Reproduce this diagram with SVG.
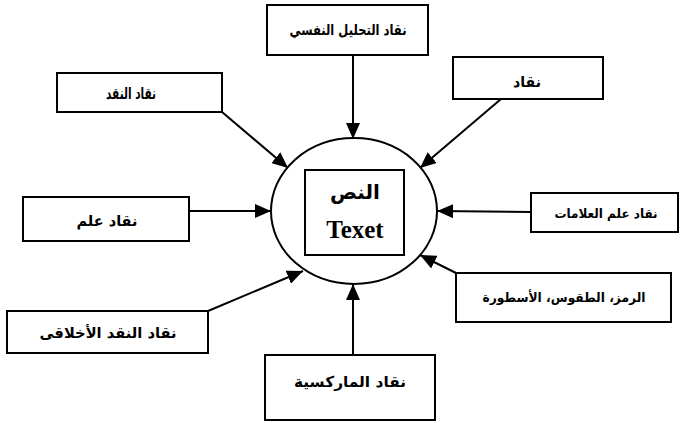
<svg xmlns="http://www.w3.org/2000/svg" width="680" height="423" viewBox="0 0 680 423">
<style>
.box{fill:#fff;stroke:#000;stroke-width:2}
.ar{font-family:"DejaVu Sans",sans-serif;font-weight:bold;font-size:15px;fill:#000;text-anchor:middle;dominant-baseline:central}
.ln{stroke:#000;stroke-width:2;fill:none;marker-end:url(#ah)}
</style>
<defs>
<marker id="ah" viewBox="0 0 16 14" refX="16" refY="7" markerWidth="16" markerHeight="14" markerUnits="userSpaceOnUse" orient="auto">
<path d="M0,0 L16,7 L0,14 Z" fill="#000"/>
</marker>
</defs>
<rect width="680" height="423" fill="#fff"/>
<g id="connectors">
<line class="ln" x1="353" y1="55" x2="353" y2="139"/>
<line class="ln" x1="222" y1="112" x2="288" y2="168"/>
<line class="ln" x1="501" y1="99" x2="420" y2="168"/>
<line class="ln" x1="189" y1="211" x2="271" y2="211"/>
<line class="ln" x1="531" y1="212" x2="437" y2="211"/>
<line class="ln" x1="208" y1="311" x2="303" y2="271"/>
<line class="ln" x1="456" y1="273" x2="420" y2="255"/>
<line class="ln" x1="353" y1="355" x2="353" y2="284"/>
</g>
<g id="center">
<ellipse cx="354" cy="211" rx="83" ry="73" fill="#fff" stroke="#000" stroke-width="2"/>
<rect class="box" x="305" y="170" width="99" height="85"/>
<text x="355" y="192" style="font-family:'DejaVu Sans',sans-serif;font-weight:bold;font-size:20px;text-anchor:middle;dominant-baseline:central">النص</text>
<text x="355" y="229" style="font-family:'Liberation Serif',serif;font-weight:bold;font-size:25px;text-anchor:middle;dominant-baseline:central">Texet</text>
</g>
<g id="n-top"><rect class="box" x="267" y="5" width="161" height="50"/><text class="ar" x="348" y="30" textLength="117" lengthAdjust="spacingAndGlyphs">نقاد التحليل النفسي</text></g>
<g id="n-topleft"><rect class="box" x="57" y="73" width="165" height="39"/><text class="ar" x="131" y="93" style="font-size:16px" textLength="50" lengthAdjust="spacingAndGlyphs">نقاد النقد</text></g>
<g id="n-topright"><rect class="box" x="453" y="57" width="150" height="42"/><text class="ar" x="527" y="82" textLength="28" lengthAdjust="spacingAndGlyphs">نقاد</text></g>
<g id="n-left"><rect class="box" x="23" y="197" width="166" height="44"/><text class="ar" x="107" y="221" textLength="61" lengthAdjust="spacingAndGlyphs">نقاد علم</text></g>
<g id="n-right"><rect class="box" x="531" y="193" width="147" height="39"/><text class="ar" x="606" y="213" style="font-size:13px" textLength="103" lengthAdjust="spacingAndGlyphs">نقاد علم العلامات</text></g>
<g id="n-bottomleft"><rect class="box" x="7" y="311" width="201" height="42"/><text class="ar" x="108" y="333" textLength="137" lengthAdjust="spacingAndGlyphs">نقاد النقد الأخلاقى</text></g>
<g id="n-bottomright"><rect class="box" x="456" y="273" width="215" height="49"/><text class="ar" x="564" y="297" style="font-size:13px" textLength="163" lengthAdjust="spacingAndGlyphs">الرمز، الطقوس، الأسطورة</text></g>
<g id="n-bottom"><rect class="box" x="265" y="355" width="170" height="65"/><text class="ar" x="350" y="382" textLength="112" lengthAdjust="spacingAndGlyphs">نقاد الماركسية</text></g>
</svg>
